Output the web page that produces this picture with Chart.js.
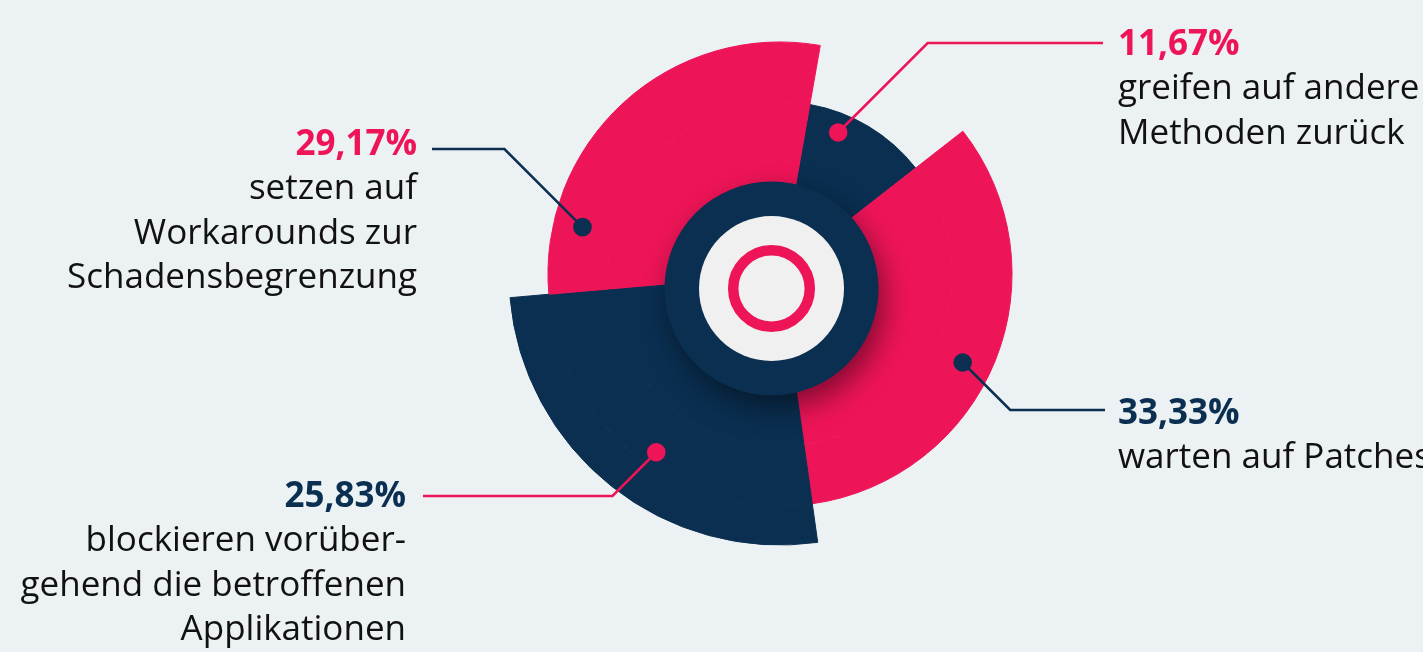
<!DOCTYPE html>
<html lang="de">
<head>
<meta charset="utf-8">
<title>Umgang mit Sicherheitslücken</title>
<script src="https://cdn.jsdelivr.net/npm/chart.js@4.4.1/dist/chart.umd.min.js"></script>
<style>
  html, body { margin: 0; padding: 0; background: #ecf1f4; }
  #wrap { position: relative; width: 1423px; height: 652px; }
</style>
</head>
<body>
<div id="wrap"><canvas id="shareChart"></canvas></div>
<script>
// Werte aus der Grafik
const categories = [
    'greifen auf andere Methoden zurück',
    'warten auf Patches',
    'blockieren vorübergehend die betroffenen Applikationen',
    'setzen auf Workarounds zur Schadensbegrenzung'
];
const shares = [11.67, 33.33, 25.83, 29.17];
const labelLines = [
    ['greifen auf andere', 'Methoden zurück'],
    ['warten auf Patches'],
    ['blockieren vorüber-', 'gehend die betroffenen', 'Applikationen'],
    ['setzen auf', 'Workarounds zur', 'Schadensbegrenzung']
];

const PINK = '#ee1458';
const NAVY = '#0a2f51';
const sliceColors = [NAVY, PINK, NAVY, PINK];

// how far each slice reaches out (number of rings it fills, from inside)
const sliceDepth = [1, 2, 3, 2];
// rings, outer -> inner (weights = thickness in px)
const ringWeights = [39, 60, 118];
const ringLevel = [3, 2, 1];

const datasets = ringWeights.map(function (w, k) {
    const colors = sliceColors.map(function (c, i) {
        return sliceDepth[i] >= ringLevel[k] ? c : 'rgba(0,0,0,0)';
    });
    return {
        label: 'Anteil',
        data: shares,
        weight: w,
        backgroundColor: colors,
        borderColor: colors,
        borderWidth: 1
    };
});

// Beschriftungen
const callouts = [
    { frac: 0.294, r: 153, lineY: 43,  endX: 1103, textX: 1118, align: 'left',  pctY: 55,  pctColor: PINK, lineColor: PINK },
    { frac: 0.532, r: 203, lineY: 410, endX: 1105, textX: 1118, align: 'left',  pctY: 424, pctColor: NAVY, lineColor: NAVY },
    { frac: 0.46,  r: 217, lineY: 496, endX: 423,  textX: 406,  align: 'right', pctY: 507, pctColor: NAVY, lineColor: PINK },
    { frac: 0.175, r: 203, lineY: 149, endX: 432,  textX: 417,  align: 'right', pctY: 155, pctColor: PINK, lineColor: NAVY }
];

const FONT = '"Open Sans", "Noto Sans", sans-serif';

const hubPlugin = {
    id: 'hub',
    afterDatasetsDraw(chart) {
        const ctx = chart.ctx;
        const meta = chart.getDatasetMeta(datasets.length - 1);
        const first = meta.data[0];
        const cx = first.x - 8.5, cy = first.y + 14.5;

        ctx.save();
        ctx.shadowColor = 'rgba(0, 0, 0, 0.45)';
        ctx.shadowBlur = 28;
        ctx.shadowOffsetX = 6;
        ctx.shadowOffsetY = 12;
        ctx.fillStyle = NAVY;
        ctx.beginPath();
        ctx.arc(cx, cy, 107, 0, Math.PI * 2);
        ctx.fill();
        ctx.restore();

        ctx.save();
        ctx.fillStyle = '#f0f0f0';
        ctx.beginPath();
        ctx.arc(cx, cy, 72.5, 0, Math.PI * 2);
        ctx.fill();
        ctx.strokeStyle = PINK;
        ctx.lineWidth = 10.5;
        ctx.beginPath();
        ctx.arc(cx, cy, 38.3, 0, Math.PI * 2);
        ctx.stroke();
        ctx.restore();
    }
};

const calloutPlugin = {
    id: 'callouts',
    afterDraw(chart) {
        const ctx = chart.ctx;
        const meta = chart.getDatasetMeta(datasets.length - 1);
        meta.data.forEach(function (arc, i) {
            const c = callouts[i];
            const a = arc.startAngle + c.frac * (arc.endAngle - arc.startAngle);
            const dotX = arc.x + c.r * Math.cos(a);
            const dotY = arc.y + c.r * Math.sin(a);
            const dir = c.align === 'left' ? 1 : -1;
            const elbowX = dotX + dir * Math.abs(c.lineY - dotY);

            ctx.save();
            ctx.strokeStyle = c.lineColor;
            ctx.lineWidth = 2.5;
            ctx.beginPath();
            ctx.moveTo(dotX, dotY);
            ctx.lineTo(elbowX, c.lineY);
            ctx.lineTo(c.endX, c.lineY);
            ctx.stroke();
            ctx.fillStyle = c.lineColor;
            ctx.beginPath();
            ctx.arc(dotX, dotY, 9.3, 0, Math.PI * 2);
            ctx.fill();

            ctx.textAlign = c.align;
            ctx.textBaseline = 'alphabetic';
            ctx.fillStyle = c.pctColor;
            ctx.font = 'bold 35px ' + FONT;
            ctx.fillText(shares[i].toFixed(2).replace('.', ',') + '%', c.textX, c.pctY);

            ctx.fillStyle = '#111111';
            ctx.font = '35px ' + FONT;
            labelLines[i].forEach(function (line, j) {
                ctx.fillText(line, c.textX, c.pctY + 44 + j * 44.7);
            });
            ctx.restore();
        });
    }
};

const ctx1 = document.getElementById('shareChart').getContext('2d');
new Chart(ctx1, {
    type: 'doughnut',
    data: {
        labels: categories,
        datasets: datasets
    },
    options: {
        responsive: true,
        maintainAspectRatio: false,
        animation: false,
        events: [],
        rotation: 10,
        radius: 271,
        cutout: '20%',
        layout: {
            padding: { left: 505, right: 368, top: 0, bottom: 104 }
        },
        plugins: {
            legend: { display: false },
            tooltip: { enabled: false }
        }
    },
    plugins: [hubPlugin, calloutPlugin]
});
</script>
</body>
</html>
